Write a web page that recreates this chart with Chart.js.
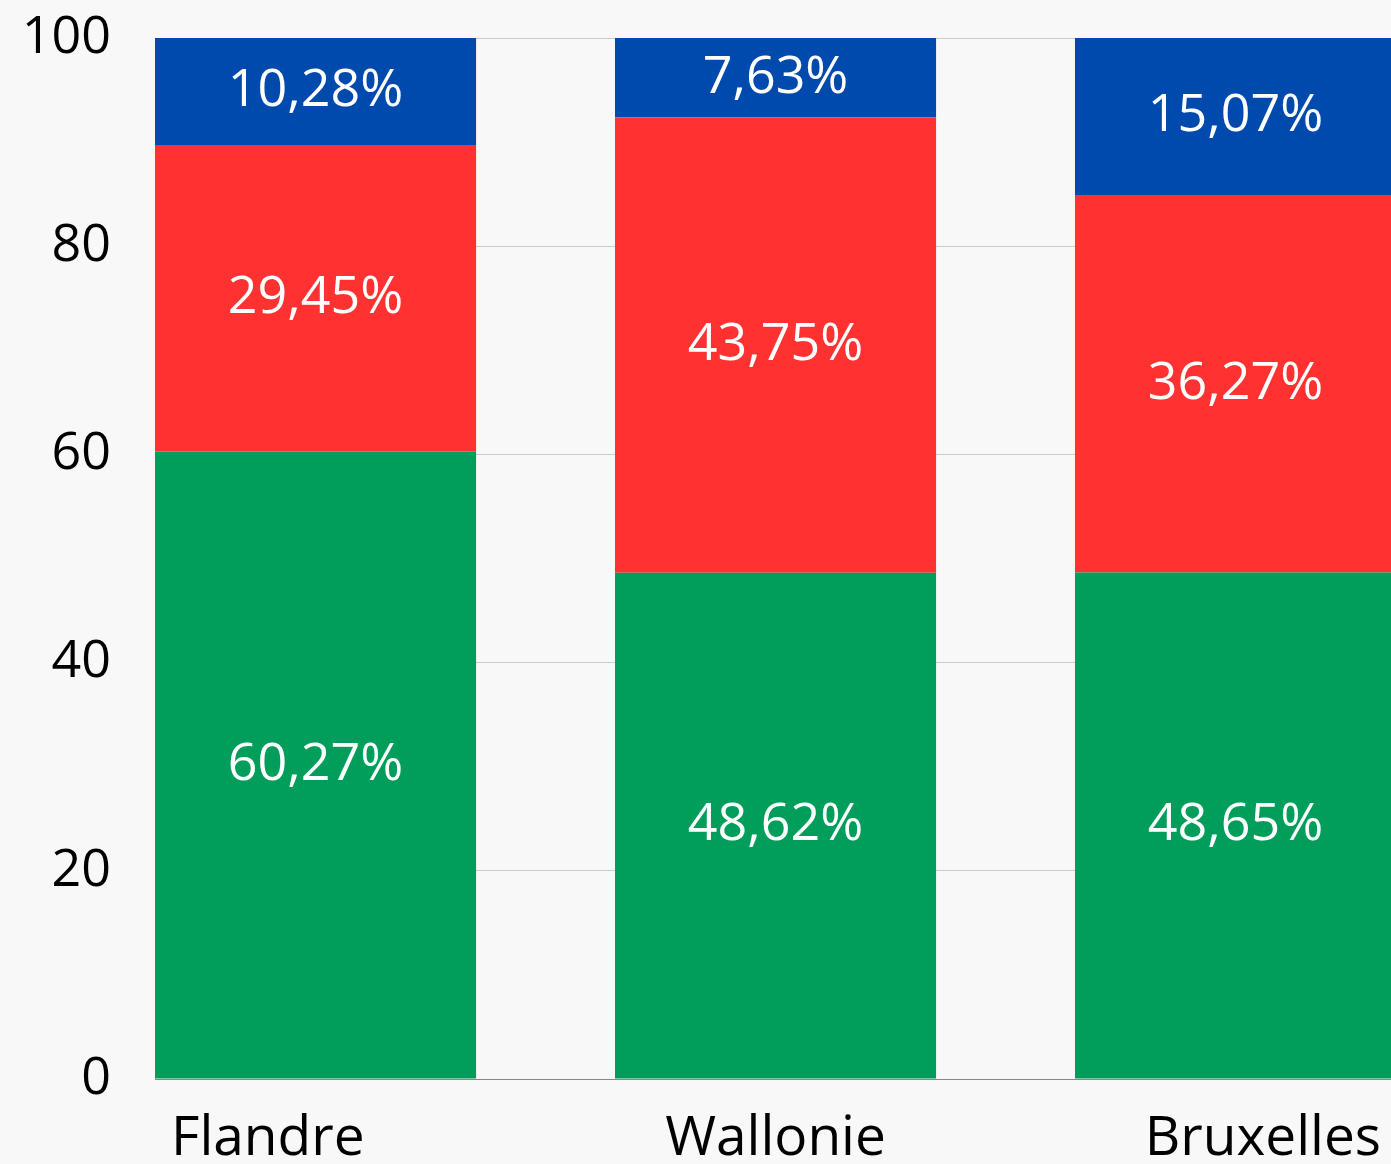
<!DOCTYPE html>
<html>
<head>
<meta charset="utf-8">
<script src="https://cdn.jsdelivr.net/npm/chart.js@4/dist/chart.umd.min.js"></script>
<style>
  html, body { margin: 0; padding: 0; background: #f8f8f8; overflow: hidden; }
  #wrap { width: 1391px; height: 1164px; }
</style>
</head>
<body>
<div id="wrap"><canvas id="chart" width="1391" height="1164"></canvas></div>
<script>
// ---- data ----
const regions = ['Flandre', 'Wallonie', 'Bruxelles'];
const greenVals = [60.27, 48.62, 48.65];
const redVals = [29.45, 43.75, 36.27];
const blueVals = [10.28, 7.63, 15.07];
const yTicks = [0, 20, 40, 60, 80, 100];

const FONT = "'Open Sans', 'Noto Sans', sans-serif";

const toPoints = vals => vals.map((v, i) => ({ x: i, y: v }));
const fmtPct = v => v.toFixed(2).replace('.', ',') + '%';

// white value labels centred in each segment
const segmentLabels = {
  id: 'segmentLabels',
  afterDatasetsDraw(chart) {
    const ctx = chart.ctx;
    ctx.save();
    ctx.fillStyle = '#ffffff';
    ctx.font = '52px ' + FONT;
    ctx.textAlign = 'center';
    ctx.textBaseline = 'middle';
    chart.data.datasets.forEach((ds, di) => {
      chart.getDatasetMeta(di).data.forEach((bar, i) => {
        const v = ds.data[i].y;
        ctx.fillText(fmtPct(v), bar.x, (bar.y + bar.base) / 2);
      });
    });
    ctx.restore();
  }
};

// region names under the bars
const regionLabels = {
  id: 'regionLabels',
  afterDraw(chart) {
    const ctx = chart.ctx;
    const area = chart.chartArea;
    const bars = chart.getDatasetMeta(0).data;
    ctx.save();
    ctx.fillStyle = '#000000';
    ctx.font = '55px ' + FONT;
    ctx.textBaseline = 'alphabetic';
    const y = area.bottom + 76;
    regions.forEach((name, i) => {
      const b = bars[i];
      if (i === 0) {
        ctx.textAlign = 'left';
        ctx.fillText(name, b.x - b.width / 2 + 16, y);
      } else if (i === regions.length - 1) {
        ctx.textAlign = 'right';
        ctx.fillText(name, area.right - 10, y);
      } else {
        ctx.textAlign = 'center';
        ctx.fillText(name, b.x, y);
      }
    });
    ctx.restore();
  }
};

new Chart(document.getElementById('chart'), {
  type: 'bar',
  data: {
    datasets: [
      { label: 'green', data: toPoints(greenVals), backgroundColor: '#009e5a' },
      { label: 'red', data: toPoints(redVals), backgroundColor: '#ff3131' },
      { label: 'blue', data: toPoints(blueVals), backgroundColor: '#004aad' }
    ]
  },
  options: {
    responsive: false,
    animation: false,
    layout: { padding: { top: 38, right: 0, left: 0, bottom: 0 } },
    barPercentage: 0.698,
    categoryPercentage: 1,
    plugins: { legend: { display: false }, tooltip: { enabled: false } },
    scales: {
      x: {
        type: 'linear', stacked: true, offset: false,
        min: -0.349, max: 2.338,
        afterBuildTicks: s => { s.ticks = regions.map((_, i) => ({ value: i })); },
        afterFit: s => { s.height = 85; },
        ticks: { display: false },
        grid: { display: false },
        border: { display: false }
      },
      y: {
        stacked: true, min: 0, max: 100,
        afterBuildTicks: s => { s.ticks = yTicks.map(v => ({ value: v })); },
        afterFit: s => { s.width = 155; s.paddingTop = 38; s.paddingBottom = 0; },
        ticks: { color: '#000000', font: { family: FONT, size: 52 }, padding: 44 },
        grid: {
          drawTicks: false,
          color: c => c.tick && c.tick.value === 0 ? '#888888' : '#cccccc',
          lineWidth: 1
        },
        border: { display: false }
      }
    }
  },
  plugins: [segmentLabels, regionLabels]
});
</script>
</body>
</html>
